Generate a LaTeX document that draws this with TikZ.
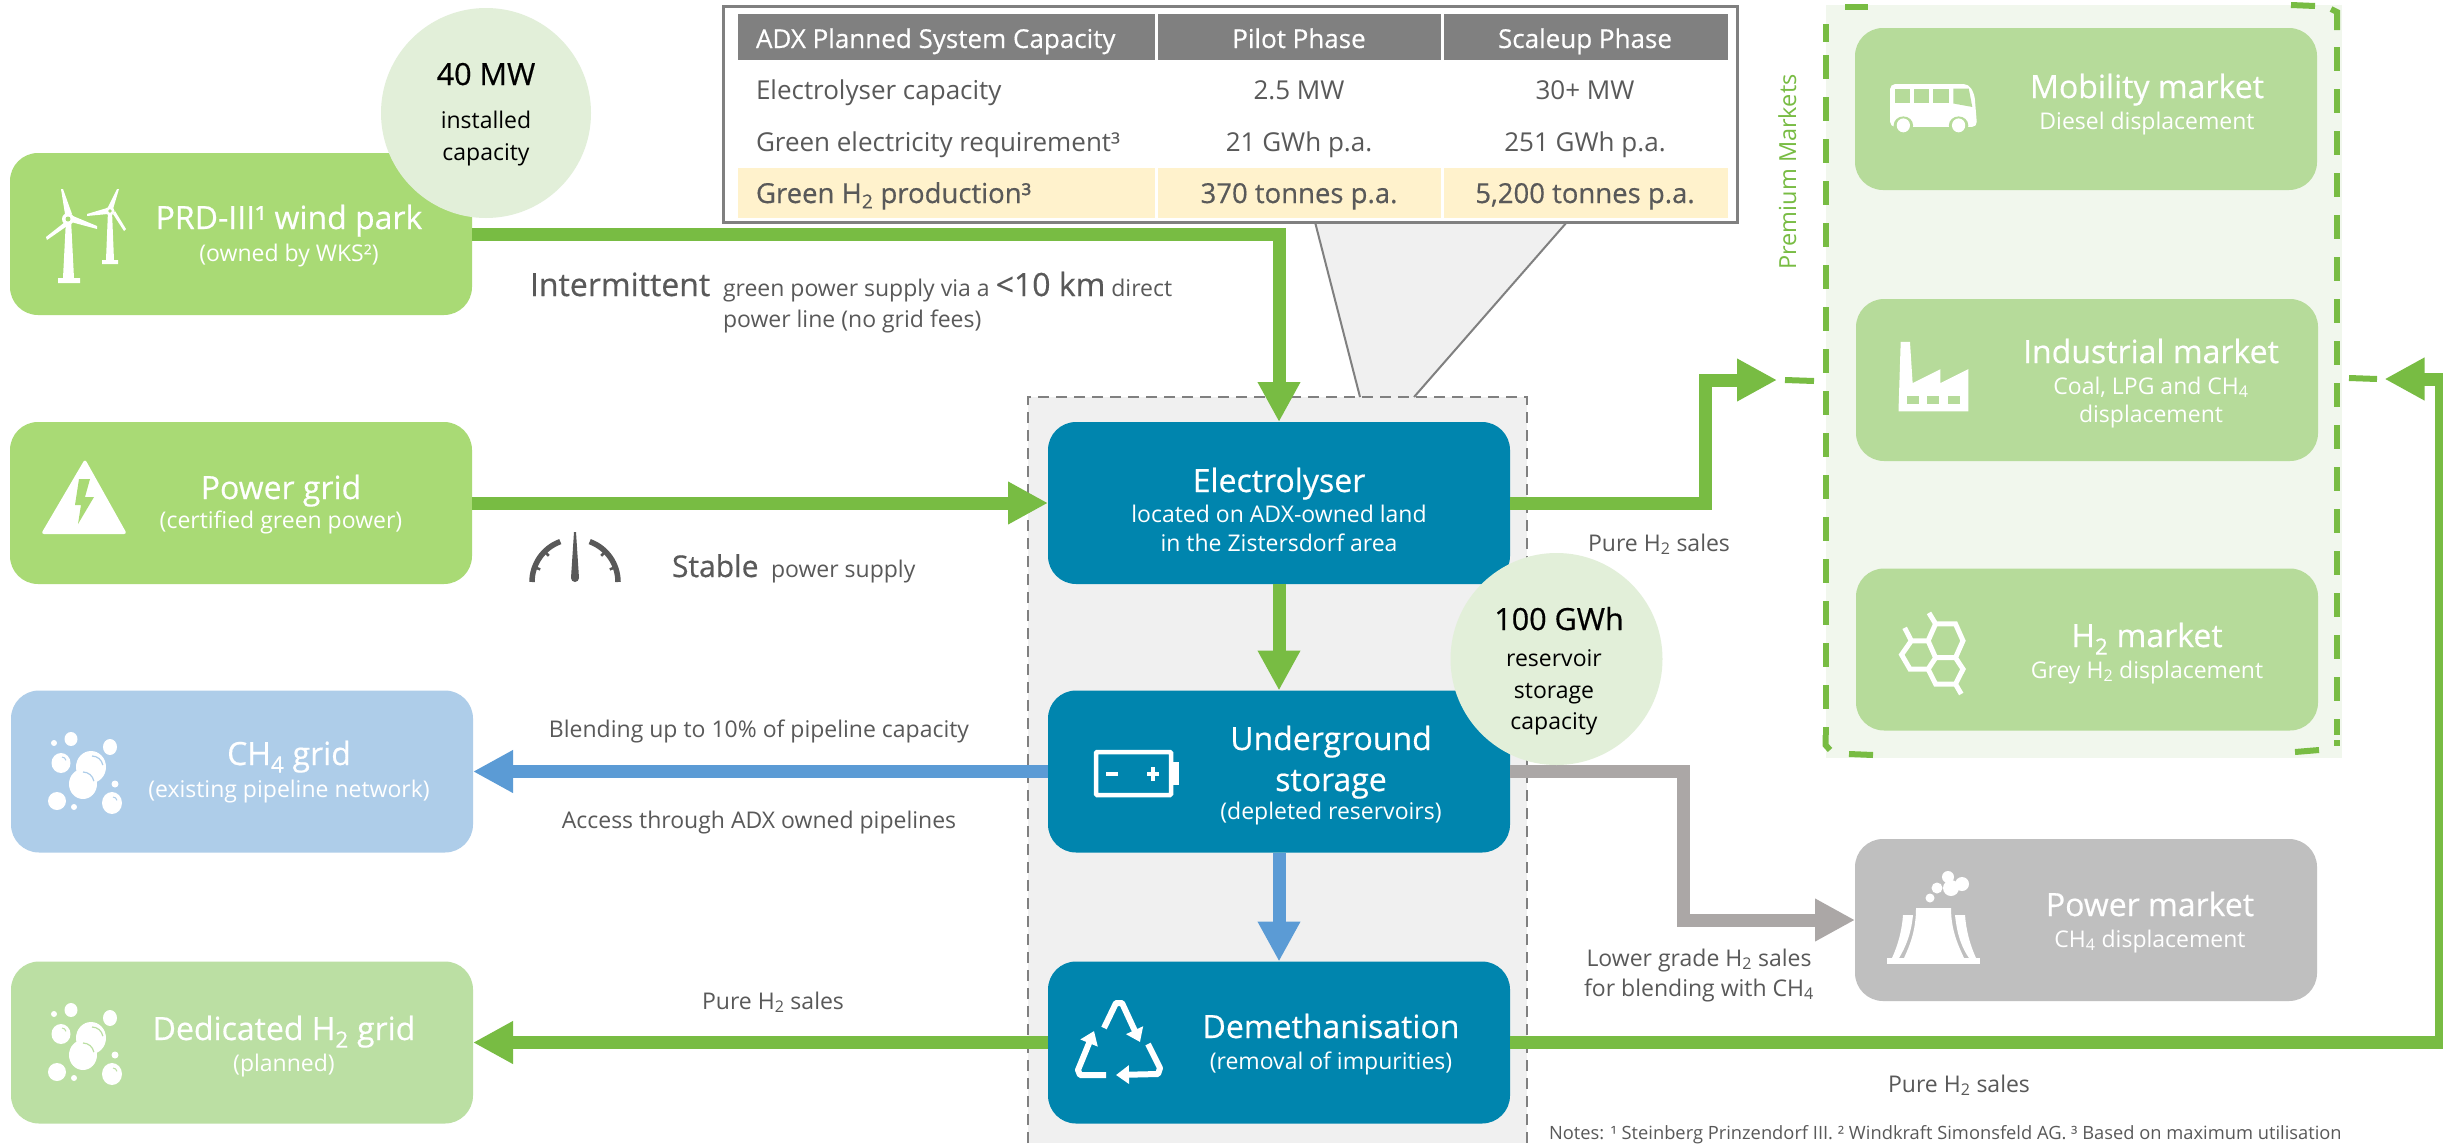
\documentclass[tikz,border=0pt]{standalone}
\usepackage{fontspec}
\setmainfont{Open Sans}
\usetikzlibrary{arrows.meta,calc}
\definecolor{flow}{HTML}{78BC43}
\definecolor{flowblue}{HTML}{5B9BD5}
\definecolor{flowgrey}{HTML}{ABA7A6}
\definecolor{boxgreen}{HTML}{A9DA75}
\definecolor{boxlight}{HTML}{BBDFA3}
\definecolor{boxmarket}{HTML}{B6DB9A}
\definecolor{boxblue}{HTML}{AECDE9}
\definecolor{boxteal}{HTML}{0085AE}
\definecolor{boxgrey}{HTML}{BFBFBF}
\definecolor{circ}{HTML}{E2EFD9}
\definecolor{panel}{HTML}{F0F0F0}
\definecolor{premium}{HTML}{F1F7ED}
\definecolor{tgrey}{HTML}{808080}
\definecolor{tyellow}{HTML}{FFF2CC}
\definecolor{ink}{HTML}{595959}
\newcommand{\fsz}[1]{\fontsize{#1}{#1}\selectfont}
\newcommand{\semi}{\addfontfeature{FakeBold=0.5}}
\newcommand{\bubblesicon}[2]{%
  \begin{scope}[yshift=-#1pt]
    \fill[white] (71,739) ellipse (6.5 and 7);
    \fill[white] (110,747) ellipse (7 and 8);
    \fill[white] (54,743) circle (3);
    \fill[white] (61,763) ellipse (9.5 and 10);
    \fill[white] (91,767) ellipse (15 and 16);
    \fill[white] (83,784) ellipse (14 and 15);
    \fill[white] (115,784) circle (3.5);
    \fill[white] (57,801) ellipse (9 and 9);
    \fill[white] (74,807) circle (3);
    \fill[white] (112,803) ellipse (10 and 11);
    \draw[#2,line width=1.2pt] (83,772) arc (-90:-10:11);
    \draw[#2,line width=1.2pt] (92,756) arc (-90:-10:11);
    \draw[#2,line width=1pt] (113,797) arc (-90:-10:4);
    \draw[#2,line width=1pt] (62,757) arc (-90:-10:4);
  \end{scope}}
\tikzset{
  x=1pt,y=-1pt,
  box/.style={rectangle,rounded corners=28pt,inner sep=0pt,outer sep=0pt,minimum width=#1,minimum height=162pt},
  box/.default=462pt,
  txt/.style={inner sep=0pt,outer sep=0pt,anchor=base,align=center,text=ink,font=\fsz{23}},
  ltxt/.style={txt,anchor=base west,align=left},
  wtitle/.style={txt,text=white,font=\fsz{32}\semi},
  wsub/.style={txt,text=white,font=\fsz{23}},
  pipe/.style={line width=13pt,flow},
  pipearrow/.style={pipe,-{Triangle[length=40pt,width=40pt]}},
  bubble/.style={circle,inner sep=0pt,outer sep=0pt,minimum size=#1,fill=circ},
  premdash/.style={flow,line width=6pt},
  zthree/.style={shift={(1750pt,0pt)},x=0.4419pt,y=-0.4975pt},
}
\begin{document}
\begin{tikzpicture}
\useasboundingbox (0,0) rectangle (2443,1143);
\fill[white] (0,0) rectangle (2443,1143);

% central panel and callout
\node[rectangle,inner sep=0pt,outer sep=0pt,fill=panel,minimum width=499pt,minimum height=746pt] (panel) at (1277.5,770) {};
\fill[panel] (1315,222) -- (1360,397) -- (1414,397) -- (1567,222) -- cycle;
\draw[tgrey,line width=2pt] (1315,222) -- (1360,397);
\draw[tgrey,line width=2pt] (1414,397) -- (1567,222);
\draw[tgrey,line width=2.5pt,dash pattern=on 11pt off 7pt] (1028,1143) -- (1028,397) -- (1527,397) -- (1527,1143);

% premium markets panel
\node[rectangle,inner sep=0pt,outer sep=0pt,fill=premium,minimum width=516pt,minimum height=753pt] (prem) at (2084,381.5) {};
\draw[premdash] (1825.5,24) -- (1825.5,42);
\draw[premdash,dash pattern=on 24pt off 18pt] (1825.5,55) -- (1825.5,735);
\draw[premdash] (1825.5,735) -- (1825.5,745) -- (1830,750);
\draw[premdash] (1845,7) -- (1868,7);
\draw[premdash] (1849,754) -- (1873,755);
\draw[premdash,dash pattern=on 24pt off 18pt] (2337,47) -- (2337,735);
\draw[premdash] (2337,740) -- (2337,746);
\draw[premdash] (2331,9) -- (2337,12) -- (2337,30);
\draw[premdash] (2291,5) -- (2315,6);
\draw[premdash] (2295,752) -- (2319,750);
\node[txt,rotate=90,anchor=base,text=flow,font=\fsz{23.5}] (premt) at (1796,172) {Premium Markets};

% boxes
\node[box,fill=boxgreen] (prd) at (241,234) {};
\node[box,fill=boxgreen] (pgrid) at (241,503) {};
\node[box,fill=boxblue] (chgrid) at (242,771.5) {};
\node[box,fill=boxlight] (hgrid) at (242,1042.5) {};
\node[box,fill=boxteal] (ely) at (1279,503) {};
\node[box,fill=boxteal] (ugs) at (1279,771.5) {};
\node[box,fill=boxteal] (dem) at (1279,1042.5) {};
\node[box,fill=boxmarket] (mob) at (2086,109) {};
\node[box,fill=boxmarket] (ind) at (2087,380) {};
\node[box,fill=boxmarket] (hmk) at (2087,649.5) {};
\node[box,fill=boxgrey] (pow) at (2086,920) {};

% connectors
\coordinate (elytop) at (ely.north);
\draw[pipearrow] (prd.east) -- (elytop |- prd.east) -- (elytop);
\draw[pipearrow] (pgrid.east) -- (ely.west);
\draw[pipearrow] (ely.south) -- (ugs.north);
\draw[pipearrow,flowblue] (ugs.south) -- (dem.north);
\draw[pipearrow,flowblue] (ugs.west) -- (chgrid.east);
\draw[pipearrow] (dem.west) -- (hgrid.east);
\coordinate (indin) at (1777,380);
\coordinate (bendA) at (1705,503);
\draw[pipearrow] (ely.east) -- (bendA) -- (1705,380) -- (indin);
\coordinate (indback) at (2384.5,379);
\coordinate (bendB) at (2441,1042.5);
\draw[pipearrow] (dem.east) -- (bendB) -- (2441,379) -- (indback);
\coordinate (bendC) at (1683,771.5);
\draw[pipearrow,flowgrey] (ugs.east) -- (bendC) -- (1683,920) -- (pow.west);
\draw[premdash] (1785,380) -- (1814,381);
\draw[premdash] (2349,378) -- (2377,379);

% callout bubbles
\node[bubble=210pt] (cap) at (486,113) {};
\node[bubble=212pt] (res) at (1556.5,659) {};

% table
\node[rectangle,inner sep=0pt,outer sep=0pt,fill=white,draw=tgrey,line width=3pt,minimum width=1014pt,minimum height=216pt] (tbl) at (1230,114) {};
\fill[tgrey] (738,14) rectangle (1155,60);
\fill[tgrey] (1158,14) rectangle (1441,60);
\fill[tgrey] (1444,14) rectangle (1728,60);
\fill[tyellow] (738,168) rectangle (1155,218);
\fill[tyellow] (1158,168) rectangle (1441,218);
\fill[tyellow] (1444,168) rectangle (1728,218);
\node[ltxt,text=white,font=\fsz{26}\semi] (t0a) at (756,48) {ADX Planned System Capacity};
\node[txt,text=white,font=\fsz{26}\semi] (t0b) at (1299,48) {Pilot Phase};
\node[txt,text=white,font=\fsz{26}\semi] (t0c) at (1585,48) {Scaleup Phase};
\node[ltxt,font=\fsz{26}] (t1a) at (756,99) {Electrolyser capacity};
\node[txt,font=\fsz{26}] (t1b) at (1299,99) {2.5 MW};
\node[txt,font=\fsz{26}] (t1c) at (1585,99) {30+ MW};
\node[ltxt,font=\fsz{26}] (t2a) at (756,151) {Green electricity requirement³};
\node[txt,font=\fsz{26}] (t2b) at (1299,151) {21 GWh p.a.};
\node[txt,font=\fsz{26}] (t2c) at (1585,151) {251 GWh p.a.};
\node[ltxt,font=\fsz{27.5}\semi] (t3a) at (756,203) {Green H\textsubscript{2} production³};
\node[txt,font=\fsz{27.5}\semi] (t3b) at (1299,203) {370 tonnes p.a.};
\node[txt,font=\fsz{27.5}\semi] (t3c) at (1585,203) {5,200 tonnes p.a.};

% box labels
\node[wtitle] (a1) at (289,229) {PRD-III¹ wind park};
\node[wsub] (a2) at (289,261) {(owned by WKS²)};
\node[wtitle] (b1) at (281,499) {Power grid};
\node[wsub] (b2) at (281,528) {(certified green power)};
\node[wtitle] (c1) at (289,765) {CH\textsubscript{4} grid};
\node[wsub] (c2) at (289,797) {(existing pipeline network)};
\node[wtitle] (d1) at (284,1040) {Dedicated H\textsubscript{2} grid};
\node[wsub] (d2) at (284,1071) {(planned)};
\node[wtitle] (e1) at (1279,492) {Electrolyser};
\node[wsub] (e2) at (1279,522) {located on ADX-owned land};
\node[wsub] (e3) at (1279,551) {in the Zistersdorf area};
\node[wtitle] (f1) at (1331,750) {Underground};
\node[wtitle] (f2) at (1331,791) {storage};
\node[wsub] (f3) at (1331,819) {(depleted reservoirs)};
\node[wtitle] (g1) at (1331,1038) {Demethanisation};
\node[wsub] (g2) at (1331,1069) {(removal of impurities)};
\node[wtitle] (m1) at (2147,98) {Mobility market};
\node[wsub] (m2) at (2147,129) {Diesel displacement};
\node[wtitle] (n1) at (2151,363) {Industrial market};
\node[wsub] (n2) at (2151,394) {Coal, LPG and CH\textsubscript{4}};
\node[wsub] (n3) at (2151,422) {displacement};
\node[wtitle] (o1) at (2147,647) {H\textsubscript{2} market};
\node[wsub] (o2) at (2147,678) {Grey H\textsubscript{2} displacement};
\node[wtitle] (p1) at (2150,916) {Power market};
\node[wsub] (p2) at (2150,947) {CH\textsubscript{4} displacement};

% bubble labels
\node[txt,text=black,font=\fsz{30.5}\semi] (h1) at (486,85) {40 MW};
\node[txt,text=black] (h2) at (486,128) {installed};
\node[txt,text=black] (h3) at (486,160) {capacity};
\node[txt,text=black,font=\fsz{30.5}\semi] (j1) at (1559,630) {100 GWh};
\node[txt,text=black] (j2) at (1554,666) {reservoir};
\node[txt,text=black] (j3) at (1554,698) {storage};
\node[txt,text=black] (j4) at (1554,729) {capacity};

% flow labels
\node[ltxt,font=\fsz{32}\semi] (k0) at (530,296) {Intermittent};
\node[ltxt] (k1) at (723,296) {green power supply via a {\fsz{32}\semi<10 km} direct};
\node[ltxt] (k2) at (723,327) {power line (no grid fees)};
\node[ltxt,font=\fsz{30}\semi] (k3a) at (672,577) {Stable};
\node[ltxt] (k3) at (771,577) {power supply};
\node[txt] (k4) at (1659,551) {Pure H\textsubscript{2} sales};
\node[txt] (k5) at (759,737) {Blending up to 10\% of pipeline capacity};
\node[txt] (k6) at (759,828) {Access through ADX owned pipelines};
\node[txt] (k7) at (773,1009) {Pure H\textsubscript{2} sales};
\node[txt] (k8) at (1699,966) {Lower grade H\textsubscript{2} sales};
\node[txt] (k9) at (1699,996) {for blending with CH\textsubscript{4}};
\node[txt] (k10) at (1959,1092) {Pure H\textsubscript{2} sales};
\node[ltxt,font=\fsz{18.3}] (k11) at (1549,1139) {Notes: ¹ Steinberg Prinzendorf III. ² Windkraft Simonsfeld AG. ³ Based on maximum utilisation};

% wind turbines
\fill[white] (66,219) -- (71,219) -- (74,278) -- (80,278) -- (80,283) -- (58,283) -- (58,278) -- (63,278) -- cycle;
\fill[white] (68,219) circle (6);
\fill[white] (61,189) -- (63,189) -- (72,214) -- (65,214) -- cycle;
\fill[white] (73,216) -- (97,226) -- (97,229) -- (71,222) -- cycle;
\fill[white] (65,222) -- (46,237) -- (47,240) -- (70,224) -- cycle;
\fill[boxgreen] (68,219) circle (2.5);
\fill[white] (108,211) -- (112,211) -- (114,260) -- (118,260) -- (118,264) -- (102,264) -- (102,260) -- (106,260) -- cycle;
\fill[white] (110,211) circle (4.5);
\fill[white] (117,189) -- (119,189) -- (113,209) -- (108,207) -- cycle;
\fill[white] (107,208) -- (87,214) -- (87,216) -- (108,214) -- cycle;
\fill[white] (113,214) -- (124,231) -- (126,229) -- (115,211) -- cycle;
\fill[boxgreen] (110,211) circle (1.8);

% danger triangle
\fill[white,rounded corners=3pt] (85,459) -- (127,534) -- (41,534) -- cycle;
\fill[boxgreen] (79,479) -- (90,479) -- (85,497) -- (94,497) -- (78,524) -- (81,505) -- (75,505) -- cycle;

% gauge
\draw[ink,line width=5.5pt] (532,582) arc (180:250:43);
\draw[ink,line width=5.5pt] (618,582) arc (0:-70:43);
\foreach \a in {20,45,135,160} {\draw[ink,line width=2.5pt] (575,582) ++(-\a:37) -- ++(-\a:4);}
\fill[ink] (574,532) -- (576,532) -- (579,578) arc (0:180:4) -- cycle;

% bubbles
\bubblesicon{0}{boxblue}
\bubblesicon{271}{boxlight}

% battery
\draw[white,line width=4.5pt,rounded corners=1pt] (1096,752) rectangle (1171,795);
\fill[white] (1173,762) rectangle (1179,785);
\fill[white] (1106,772) rectangle (1118,776);
\fill[white] (1147,772) rectangle (1159,776);
\fill[white] (1151,767) rectangle (1155,781);

% recycling
\draw[white,line width=6pt,-{Triangle[length=13pt,width=18pt]},line join=round] (1104,1028) -- (1116,1003) -- (1122,1003) -- (1140,1042);
\draw[white,line width=6pt,-{Triangle[length=13pt,width=18pt]},line join=round] (1148,1044) -- (1160,1068) -- (1158,1074) -- (1116,1075);
\draw[white,line width=6pt,-{Triangle[length=13pt,width=18pt]},line join=round] (1106,1075) -- (1080,1075) -- (1078,1070) -- (1094,1031);

% bus, factory, hexagons in zoom coordinates
\begin{scope}[zthree]
  \fill[white,rounded corners=5pt] (317,255) -- (317,169) -- (495,169) -- (508,190) -- (514,255) -- cycle;
  \fill[boxmarket] (327,178) rectangle (362,208);
  \fill[boxmarket] (372,178) rectangle (406,208);
  \fill[boxmarket] (415,178) rectangle (450,208);
  \fill[boxmarket] (460,178) -- (495,178) -- (503,215) -- (460,208) -- cycle;
  \fill[boxmarket] (347,252) ellipse (22 and 18);
  \fill[boxmarket] (472,252) ellipse (22 and 18);
  \fill[white] (347,252) ellipse (15 and 14);
  \fill[white] (472,252) ellipse (15 and 14);
  \fill[white] (336,827) -- (341,687) -- (362,687) -- (368,770) -- (431,742) -- (431,770) -- (494,742) -- (494,827) -- cycle;
  \fill[boxmarket] (355,795) rectangle (383,812);
  \fill[boxmarket] (400,795) rectangle (428,812);
  \fill[boxmarket] (447,795) rectangle (475,812);
  \draw[white,line width=5pt,line join=miter]
    (405,1232) -- (420,1254) -- (465,1254) -- (482,1288) -- (465,1322) -- (420,1322) -- (403,1288) -- (420,1254)
    (350,1262) -- (365,1288) -- (403,1288) -- (420,1322) -- (403,1345) -- (362,1345) -- (343,1316) -- (365,1288)
    (420,1322) -- (465,1322) -- (482,1345) -- (465,1375) -- (420,1375) -- (403,1345)
    (465,1375) -- (478,1395);
\end{scope}

% cooling tower
\fill[white] (1887,958) rectangle (1980,964);
\fill[white] (1916,908) -- (1951,908) .. controls (1951,930) and (1958,945) .. (1964,958) -- (1904,958) .. controls (1910,945) and (1916,930) .. cycle;
\fill[white] (1903,915) -- (1913,915) .. controls (1911,935) and (1905,948) .. (1899,958) -- (1892,958) .. controls (1898,945) and (1902,930) .. cycle;
\fill[white] (1955,915) -- (1965,915) .. controls (1966,930) and (1970,945) .. (1976,958) -- (1969,958) .. controls (1962,948) and (1957,935) .. cycle;
\fill[white] (1930,898) circle (4.5);
\fill[white] (1937,888) circle (5.5);
\fill[white] (1951,888) circle (8);
\fill[white] (1962,884) circle (7);
\fill[white] (1948,877) circle (6);
\end{tikzpicture}
\end{document}
